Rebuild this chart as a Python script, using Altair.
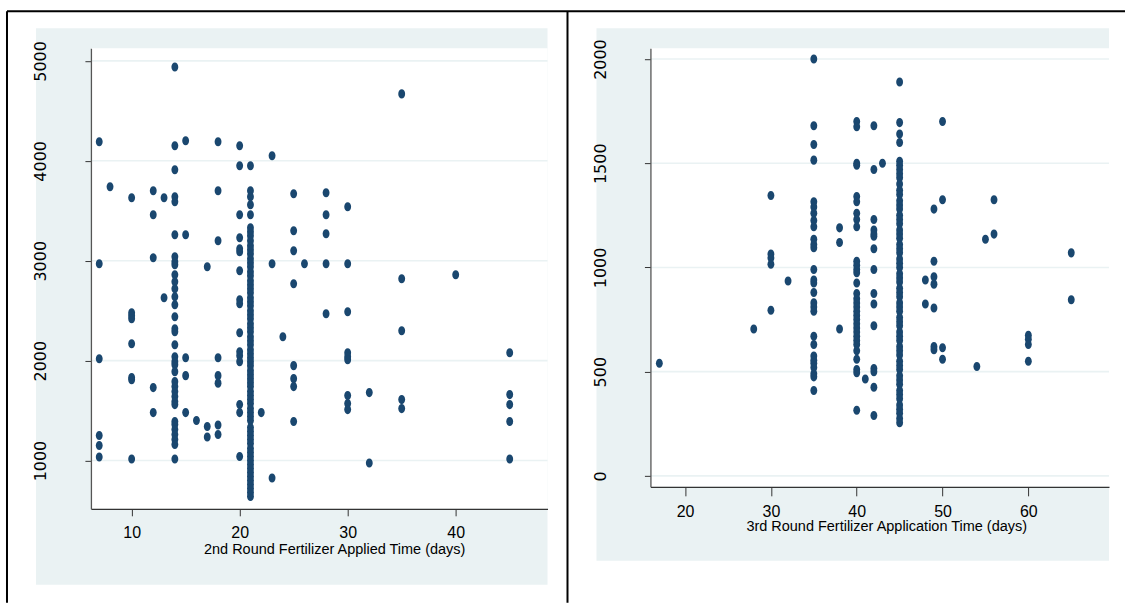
import altair as alt
import pandas as pd

# ---- 2nd round fertilizer timing (days) vs. yield ----
r2_days = (
    [7] * 6 + [8] + [10] * 8 + [12] * 5 + [13] * 2 + [14] * 35 + [15] * 5 + [16]
    + [17] * 3 + [18] * 8 + [20] * 16 + [21] * 69 + [22] + [23] * 3 + [24]
    + [25] * 8 + [26] + [28] * 5 + [30] * 9 + [32] * 2 + [35] * 5 + [40] + [45] * 5
)
r2_yield = [
    4190, 2970, 2020, 1250, 1150, 1035,
    3740,
    3630, 2480, 2450, 2420, 2170, 1830, 1810, 1015,
    3700, 3460, 3030, 1730, 1480,
    3630, 2630,
    4940, 4150, 3910, 3640, 3590, 3260, 3040, 2990, 2960, 2860, 2790, 2720,
    2640, 2560, 2440, 2320, 2290, 2160, 2040, 1990, 1960, 1890, 1790, 1740,
    1690, 1640, 1590, 1560, 1390, 1360, 1310, 1260, 1210, 1160, 1015,
    4200, 3260, 2030, 1850, 1480,
    1400,
    2940, 1340, 1235,
    4190, 3700, 3200, 2030, 1850, 1775, 1355, 1260,
    4150, 3950, 3460, 3230, 3120, 3090, 2900, 2610, 2570, 2280, 2090, 2050,
    1990, 1560, 1480, 1040,
    3950, 3700, 3640, 3560, 3460, 3330, 3290, 3250, 3200, 3150, 3110, 3070,
    3020, 2980, 2940, 2890, 2850, 2800, 2760, 2720, 2680, 2630, 2590, 2550,
    2500, 2460, 2420, 2370, 2330, 2290, 2240, 2200, 2160, 2110, 2070, 2030,
    1990, 1950, 1900, 1860, 1820, 1780, 1740, 1690, 1650, 1610, 1570, 1520,
    1480, 1440, 1400, 1330, 1290, 1250, 1210, 1170, 1120, 1080, 1040, 1000,
    960, 920, 880, 840, 800, 760, 720, 680, 640,
    1480,
    4050, 2970, 825,
    2240,
    3670, 3300, 3100, 2770, 1950, 1820, 1740, 1390,
    2970,
    3680, 3460, 3270, 2970, 2470,
    3540, 2970, 2490, 2080, 2040, 2010, 1650, 1570, 1510,
    1680, 975,
    4670, 2820, 2300, 1610, 1520,
    2860,
    2080, 1660, 1560, 1390, 1015,
]

# ---- 3rd round fertilizer timing (days) vs. yield ----
r3_days = (
    [17] + [28] + [30] * 5 + [32] + [35] * 28 + [38] * 3 + [40] * 32 + [41]
    + [42] * 15 + [43] + [45] * 59 + [48] * 2 + [49] * 7 + [50] * 4 + [54]
    + [55] + [56] * 2 + [60] * 4 + [65] * 2
)
r3_yield = [
    540,
    705,
    1345, 1065, 1045, 1015, 795,
    935,
    2000, 1680, 1590, 1515, 1315, 1290, 1260, 1225, 1195, 1135, 1110, 1095,
    990, 940, 925, 880, 830, 810, 790, 670, 630, 575, 555, 540, 520, 490,
    475, 410,
    1190, 1120, 705,
    1700, 1675, 1500, 1490, 1340, 1315, 1260, 1230, 1195, 1030, 1010, 990,
    975, 925, 875, 850, 830, 810, 790, 770, 750, 730, 710, 690, 670, 650,
    630, 600, 560, 510, 495, 315,
    465,
    1680, 1470, 1230, 1180, 1160, 1150, 1090, 990, 875, 825, 720, 515, 500,
    425, 290,
    1500,
    1890, 1695, 1640, 1600, 1510, 1490, 1470, 1450, 1430, 1400, 1370, 1350,
    1320, 1300, 1280, 1250, 1230, 1210, 1180, 1160, 1140, 1110, 1090, 1070,
    1040, 1020, 1000, 970, 950, 930, 900, 880, 860, 830, 810, 790, 760, 740,
    720, 690, 670, 650, 620, 600, 580, 550, 530, 510, 480, 460, 440, 410,
    390, 370, 340, 320, 300, 275, 255,
    940, 825,
    1280, 1030, 955, 920, 805, 620, 605,
    1700, 1325, 615, 560,
    525,
    1135,
    1325, 1160,
    675, 655, 630, 550,
    1070, 845,
]

r2_xticks = [10, 20, 30, 40]
r2_yticks = [1000, 2000, 3000, 4000, 5000]
r3_xticks = [20, 30, 40, 50, 60]
r3_yticks = [0, 500, 1000, 1500, 2000]

PANEL_BG = "#EAF2F3"
GRID_C = "#EAF2F3"
DOT = "#1A476F"
AXIS_C = "#333333"
# filled ellipse, slightly taller than wide
ELLIPSE = "M0,-1A0.76,1 0 1,1 0,1A0.76,1 0 1,1 0,-1Z"

one = pd.DataFrame({"k": [0]})


def box(x0, x1, y0, y1, color):
    return alt.Chart(one).mark_rect(color=color, clip=False).encode(
        x=alt.value(x0), x2=alt.value(x1), y=alt.value(y0), y2=alt.value(y1)
    )


def hline(x0, x1, y):
    return alt.Chart(one).mark_rule(color="black", strokeWidth=2, clip=False).encode(
        x=alt.value(x0), x2=alt.value(x1), y=alt.value(y)
    )


def vline(x, y0, y1):
    return alt.Chart(one).mark_rule(color="black", strokeWidth=2, clip=False).encode(
        x=alt.value(x), y=alt.value(y0), y2=alt.value(y1)
    )


def panel(days, vals, W, H, xdom, ydom, xticks, yticks, xtitle, title_x,
          x_tick, x_lpad, x_tpad, y_lpad, bg, extras):
    df = pd.DataFrame({"day": days, "val": vals})
    yenc = alt.Y(
        "val:Q",
        scale=alt.Scale(domain=ydom, nice=False, zero=False),
        axis=alt.Axis(
            values=yticks, title=None, grid=False, zindex=1, format="d",
            labelAngle=270, labelAlign="center", labelBaseline="bottom",
            labelFont="DejaVu Sans", labelFontSize=16, labelColor="black",
            labelPadding=y_lpad, tickSize=6, tickColor=AXIS_C,
            domainColor="#555555", domainWidth=1.3, labelOverlap=False,
        ),
    )
    xenc = alt.X(
        "day:Q",
        scale=alt.Scale(domain=xdom, nice=False, zero=False),
        axis=alt.Axis(
            values=xticks, title=xtitle, grid=False, zindex=1, format="d",
            labelFont="Liberation Sans", labelFontSize=16, labelColor="black",
            labelPadding=x_lpad, tickSize=x_tick, tickColor=AXIS_C,
            domainColor=AXIS_C, domainWidth=1.3, labelFlush=False,
            labelOverlap=False,
            titleFont="Liberation Sans", titleFontSize=14.5, titleFontWeight="normal",
            titleColor="black", titlePadding=x_tpad, titleX=title_x,
            titleAlign="center",
        ),
    )
    grid = alt.Chart(pd.DataFrame({"val": yticks})).mark_rule(
        color=GRID_C, strokeWidth=1.6
    ).encode(y=yenc)
    pts = alt.Chart(df).mark_point(
        shape=ELLIPSE, filled=True, size=82, color=DOT, opacity=1, strokeWidth=0
    ).encode(x=xenc, y=yenc)
    layers = extras + [
        box(bg[0], bg[1], bg[2], bg[3], PANEL_BG),
        box(0, W, 0, H, "white"),
        grid,
        pts,
    ]
    return alt.layer(*layers).properties(width=W, height=H)


W1, H1 = 457, 461
W2, H2 = 459, 439

# page frame: white sheet, table rules along the top, left edge and column divider
frame = [
    box(-91, 1035, -48, 555, "white"),
    hline(-84, 1035, -37),
    vline(-84, -37, 555),
    vline(477, -37, 555),
]

left = panel(
    r2_days, r2_yield, W1, H1, [6.23, 48.5], [517, 5127], r2_xticks, r2_yticks,
    "2nd Round Fertilizer Applied Time (days)", 243.5,
    7, 9, 2, 36, (-55, W1, -20, 537), frame,
)
right = panel(
    r3_days, r3_yield, W2, H2, [15.96, 69.4], [-52.7, 2052], r3_xticks, r3_yticks,
    "3rd Round Fertilizer Application Time (days)", 236,
    9, 8, 0, 36, (-54, W2, -20, 513), [],
)

chart = alt.hconcat(left, right, spacing=103, bounds="flush").properties(
    padding=0, background="white"
).configure_view(stroke=None)

chart.save("out.html", embed_options={"renderer": "svg", "actions": False})
